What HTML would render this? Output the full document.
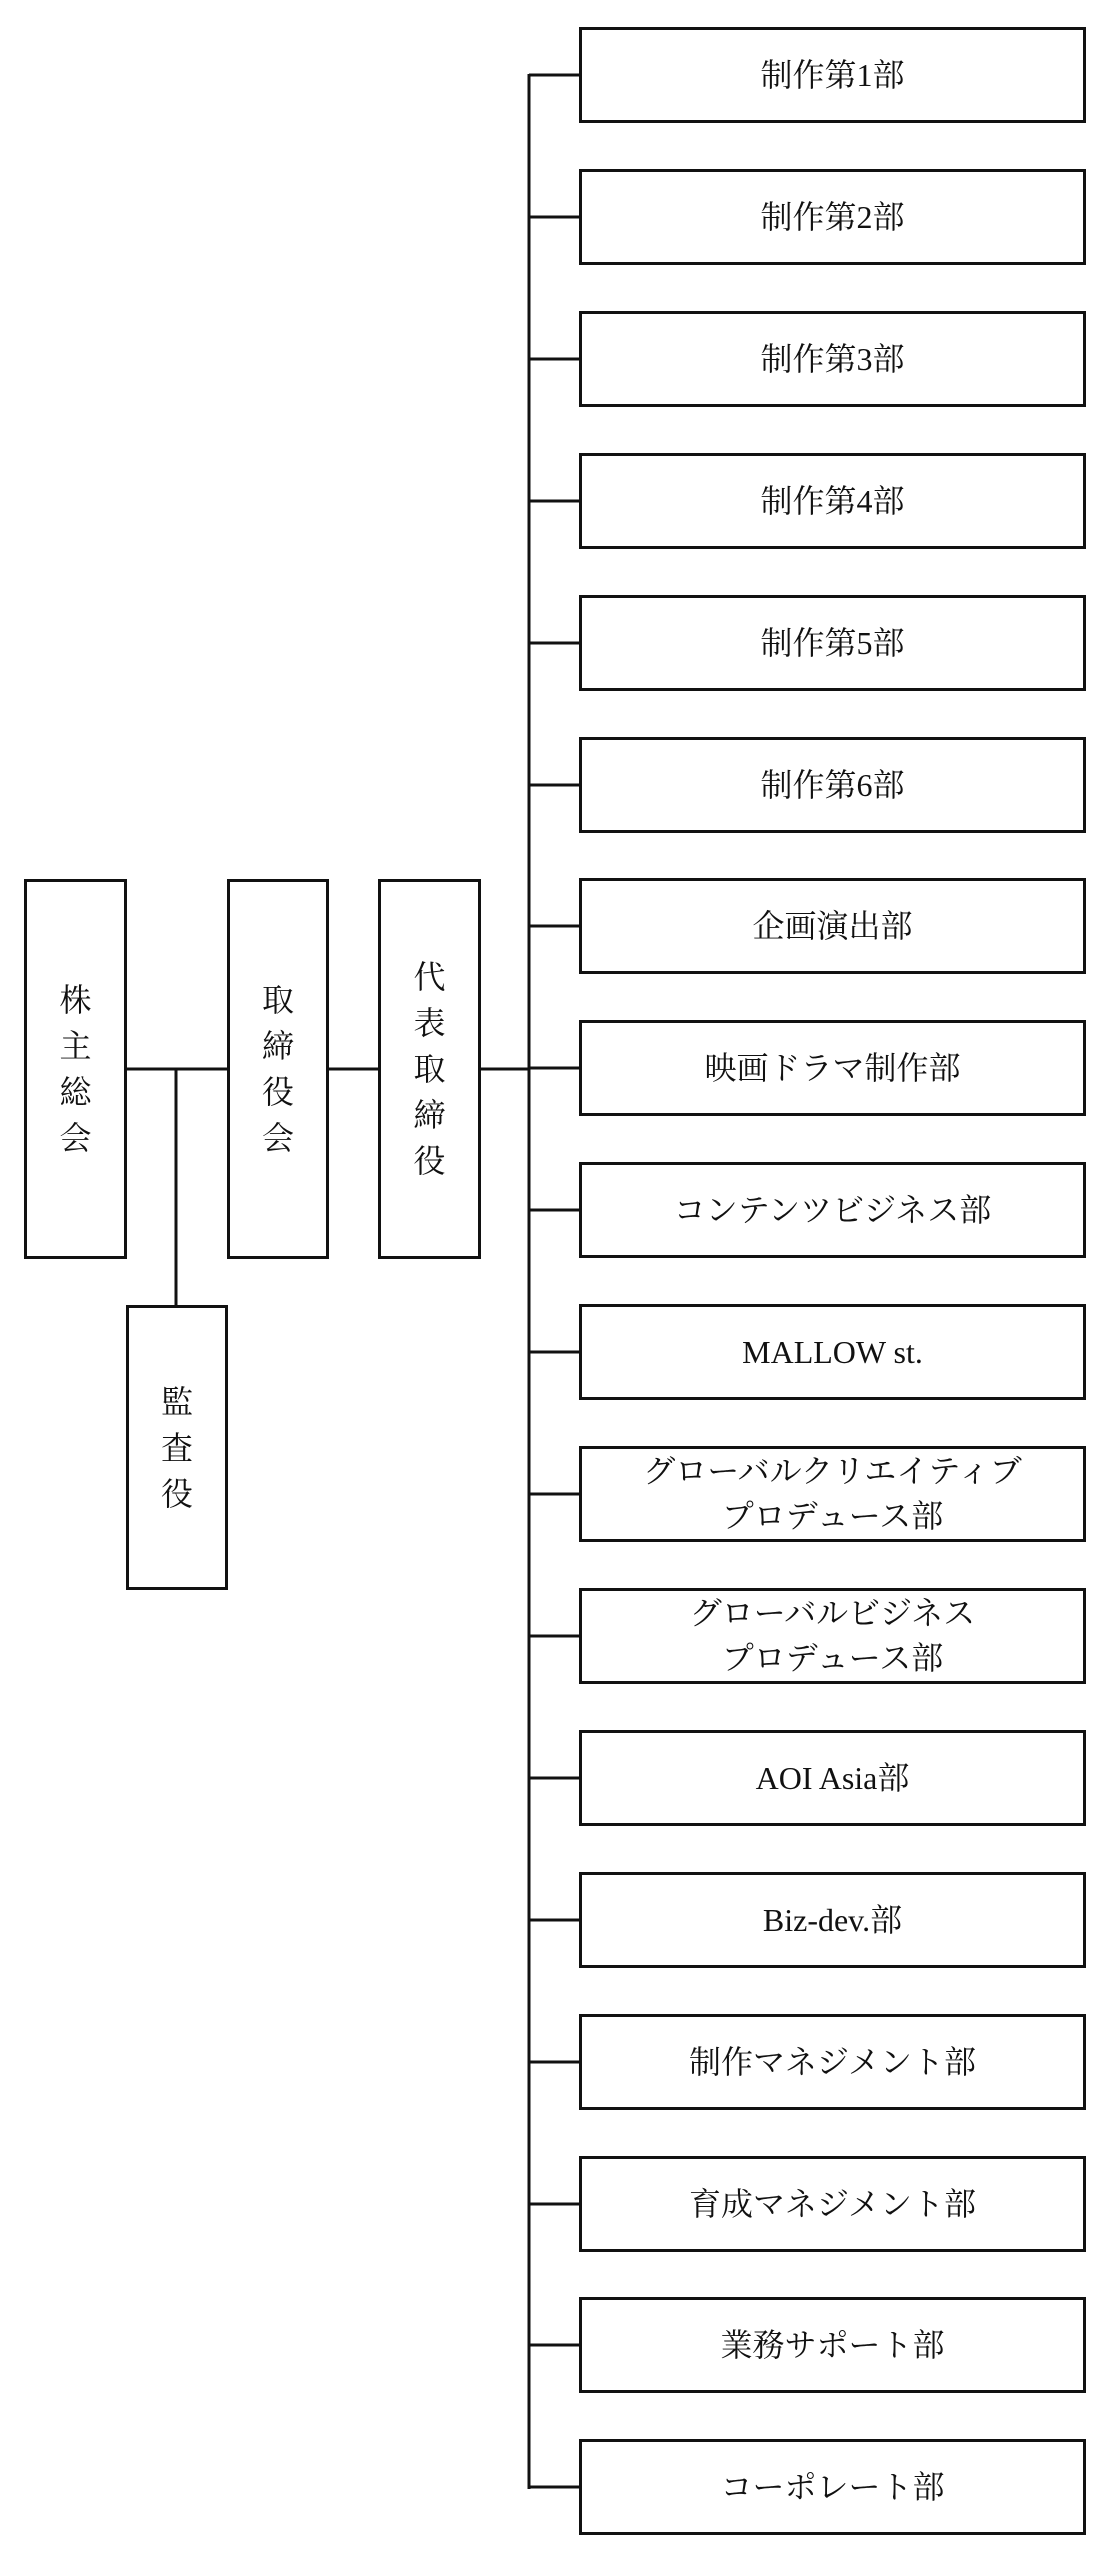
<!DOCTYPE html>
<html><head><meta charset="utf-8"><style>
html,body{margin:0;padding:0;background:#fff;}
body{width:1116px;height:2560px;position:relative;overflow:hidden;font-family:"Liberation Serif","Noto Serif CJK SC",serif;color:#111;}
.b{position:absolute;box-sizing:border-box;border:3px solid #111;background:#fff;display:flex;align-items:center;justify-content:center;text-align:center;}
.r{left:579px;width:507px;height:96px;font-size:32px;line-height:45px;}
.v{font-size:32px;line-height:46px;width:32px;word-break:break-all;}
svg{position:absolute;left:0;top:0;}
</style></head><body>
<svg width="1116" height="2560">
<g stroke="#111" stroke-width="3" fill="none">
<line x1="127" y1="1069" x2="227" y2="1069"/>
<line x1="176" y1="1069" x2="176" y2="1305"/>
<line x1="328" y1="1069" x2="378" y2="1069"/>
<line x1="480" y1="1069" x2="529" y2="1069"/>
<line x1="529" y1="74" x2="529" y2="2489"/>
</g>
<g id="h" stroke="#111" stroke-width="3"></g>
</svg>
<div class="b" style="left:24px;top:879px;width:103px;height:380px;"><div class="v">株主総会</div></div>
<div class="b" style="left:227px;top:879px;width:102px;height:380px;"><div class="v">取締役会</div></div>
<div class="b" style="left:378px;top:879px;width:103px;height:380px;"><div class="v">代表取締役</div></div>
<div class="b" style="left:126px;top:1305px;width:102px;height:285px;"><div class="v">監査役</div></div>
<div id="c"></div>
<script>
var L=["制作第1部","制作第2部","制作第3部","制作第4部","制作第5部","制作第6部","企画演出部","映画ドラマ制作部","コンテンツビジネス部","MALLOW st.","グローバルクリエイティブ<br>プロデュース部","グローバルビジネス<br>プロデュース部","AOI Asia部","Biz-dev.部","制作マネジメント部","育成マネジメント部","業務サポート部","コーポレート部"];
var c=document.getElementById('c'),h=document.getElementById('h'),s='',g='';
for(var i=0;i<18;i++){var t=Math.round(27+i*141.9);
s+='<div class="b r" style="top:'+t+'px"><div>'+L[i]+'</div></div>';
var y=t+48;g+='<line x1="529" y1="'+y+'" x2="581" y2="'+y+'"/>';}
c.innerHTML=s;h.innerHTML=g;
</script>
</body></html>
